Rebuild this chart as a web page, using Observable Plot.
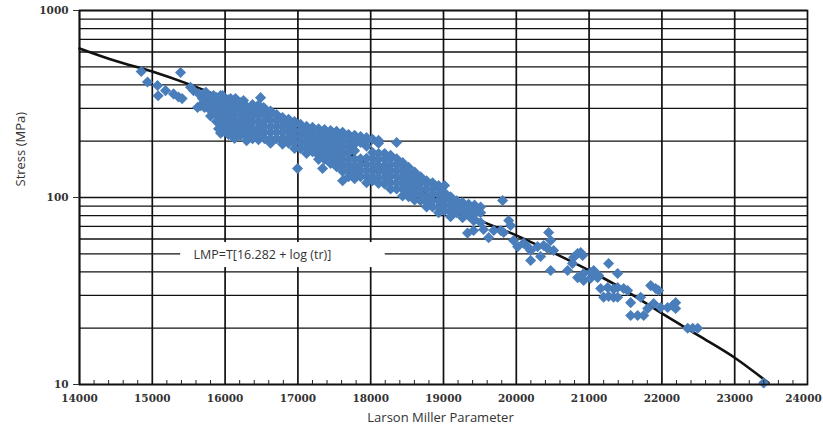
<!DOCTYPE html>
<html>
<head>
<meta charset="utf-8">
<script src="https://cdn.jsdelivr.net/npm/d3@7"></script>
<script src="https://cdn.jsdelivr.net/npm/@observablehq/plot@0.6"></script>
<style>
  html, body { margin: 0; padding: 0; background: #fff; }
  #chart { width: 823px; height: 436px; }
</style>
</head>
<body>
<div id="chart"></div>
<script>
// ---- axis ticks ----
const xMajorTicks = [14000, 15000, 16000, 17000, 18000, 19000, 20000, 21000, 22000, 23000];
const xLastTick = [24000];
const xMinorTicks = [14200,14400,14600,14800,15200,15400,15600,15800,16200,16400,16600,16800,17200,17400,17600,17800,
  18200,18400,18600,18800,19200,19400,19600,19800,20200,20400,20600,20800,21200,21400,21600,21800,
  22200,22400,22600,22800,23200,23400,23600,23800];
const yLabelTicks = [10, 100, 1000];
const yGridLines = [10,20,30,40,50,60,70,80,90,100,200,300,400,500,600,700,800,900,1000];

// ---- fitted master curve (LMP, stress MPa) ----
const fitLMP    = [14000, 14500, 15000, 15500, 16000, 16500, 17000, 17500, 18000, 18500, 19000, 19500, 20000, 20500, 21000, 21500, 22000, 22500, 23000, 23464];
const fitStress = [627,   537,   472,   404,   338,   281,   228,   187,   150,   121,   94,    75.4,  62.7,  50.8,  40.7,  31.8,  24.0,  18.3,  13.9,  10.2];

// ---- scattered test results (LMP, stress MPa) ----
const sparseLeft = [
  [14848,472],[14934,415],[15072,397],[15080,350],[15182,373],[15292,358],[15388,466],[15360,345],[15410,338],
  [15525,389],[15566,373],[15640,358],[15704,358],[15621,303],[15662,310],[15690,338],[15735,365],[15841,351],
  [15910,330],[15937,351],[16075,338],[16143,338],[16253,330],[16487,342],[16528,303],
  [15910,233],[15937,221],[16116,221],[16212,215],[16528,221],[16995,143],[17339,143],[17614,123]
];
const bandColumns = [
  [15717,[330,303]],
  [15800,[338,314,292,273]],
  [15882,[342,318,295,275,255]],
  [15965,[351,326,303,281,262,244,225]],
  [16047,[333,310,288,268,249,231,217]],
  [16130,[318,295,275,255,237,220,207]],
  [16212,[321,299,278,258,240,223]],
  [16295,[306,284,265,246,228,213,201]],
  [16377,[314,292,272,253,233,217,206]],
  [16459,[312,292,275,255,237,220,204]],
  [16542,[299,278,258,240,223,206]],
  [16624,[290,278,258,240,223,207,195]],
  [16707,[278,258,240,223,206]],
  [16789,[268,258,240,223,207,193]],
  [16872,[262,243,226,209,195]],
  [16954,[255,246,228,213,198,183]],
  [17037,[246,228,212,197,183]],
  [17119,[240,231,215,199,185,172]],
  [17201,[237,221,205,190,176]],
  [17284,[233,225,209,195,180,168,160]],
  [17366,[231,215,200,185,172,160]],
  [17449,[228,220,204,190,176,164,152]],
  [17531,[226,209,195,181,168,156,146]],
  [17614,[223,215,199,185,172,160,148,138]],
  [17696,[217,202,187,174,161,150,139,129]],
  [17779,[215,207,193,178,160,146,136,126]],
  [17861,[212,197,161,150,139,129]],
  [17943,[209,201,188,162,150,140,130,120]],
  [18026,[205,174,161,150,139,129,123]],
  [18108,[202,195,172,160,148,138,128,119]],
  [18191,[172,160,148,137,127,118]],
  [18273,[168,162,150,140,130,120,111]],
  [18356,[197,161,150,139,129,120,111]],
  [18438,[154,148,138,128,119,111,102]],
  [18520,[145,135,125,116,108,101]],
  [18603,[137,132,122,114,105,97]],
  [18685,[129,120,111,104,96]],
  [18768,[123,119,111,102,94,89]],
  [18850,[120,111,104,96,89]],
  [18933,[116,112,104,96,89,83]],
  [19015,[116,106,98,91,85]],
  [19097,[101,97,91,84,79]],
  [19180,[96,89,83]],
  [19262,[94,91,84,78]],
  [19345,[92,86,80]],
  [19427,[91,88,82,76]],
  [19510,[89,83]]
];
const sparseRight = [
  [19330,64.5],[19413,66.6],[19413,75.4],[19510,73.5],[19550,67.4],[19620,61],[19690,66.6],[19785,66.6],[19826,65],
  [19812,96.4],[19895,75.4],[19922,70.8],[19963,58.9],[20018,54.6],[20100,57],[20155,54.6],[20197,52.1],[20197,46],
  [20293,54.6],[20334,48.4],[20375,55.4],[20430,53.4],[20444,65],[20472,58.9],[20513,52.1],[20472,40.7],
  [20705,40.7],[20772,44.4],[20787,47.8],[20842,50.2],[20884,50.8],[20911,49],[20842,37.3],[20925,39.2],[20925,36],
  [21021,39.7],[21021,37],[21063,40.7],[21117,37.3],[21131,38.3],[21268,44.4],[21392,39.2],
  [21159,32.6],[21255,33],[21337,32.4],[21392,33],[21474,32.6],[21529,31.8],[21200,29.3],[21268,29.6],[21337,29.3],
  [21392,29.3],[21571,27.4],[21708,29.3],[21846,33.8],[21914,32.6],[21955,31.8],
  [21571,23.4],[21667,23.4],[21750,23.4],[21805,25.5],[21887,27.1],[21983,25.8],[22079,25.8],[22148,26.4],
  [22189,27.4],[22189,25.5],[22354,20],[22423,20],[22492,20],[23398,10.2]
];

// ---- annotation ----
const noteText = "LMP=T[16.282 + log (tr)]";
const noteAnchor = [{lmp: 15566, stress: 49.5}];
const noteBackground = [{lmp1: 15390, lmp2: 18200, s1: 42.2, s2: 57.4}];

// ---- build tables ----
const fitCurve = fitLMP.map((x, i) => ({lmp: x, stress: fitStress[i]}));
const points = [
  ...sparseLeft.map(([l, s]) => ({lmp: l, stress: s})),
  ...bandColumns.flatMap(([l, ss]) => ss.map(s => ({lmp: l, stress: s}))),
  ...sparseRight.map(([l, s]) => ({lmp: l, stress: s}))
];

const tickFont = {fontFamily: "DejaVu Serif", fontWeight: "bold", fontSize: 10.5};

const chart = Plot.plot({
  width: 823,
  height: 436,
  marginLeft: 79,
  marginRight: 16,
  marginTop: 10,
  marginBottom: 52,
  style: {background: "#fff", color: "#222"},
  x: {domain: [14000, 24000], axis: null},
  y: {type: "log", domain: [10, 1000], axis: null},
  marks: [
    Plot.ruleY(yGridLines, {y: d => d, stroke: "#111", strokeWidth: 1.3}),
    Plot.ruleX(xMajorTicks, {x: d => d, stroke: "#111", strokeWidth: 1.7}),
    Plot.rect(noteBackground, {x1: "lmp1", x2: "lmp2", y1: "s1", y2: "s2", fill: "#fff"}),
    Plot.text(noteAnchor, {x: "lmp", y: "stress", text: () => noteText, textAnchor: "start",
      fontFamily: "Open Sans", fontSize: 12.5, fill: "#333"}),
    Plot.line(fitCurve, {x: "lmp", y: "stress", stroke: "#111", strokeWidth: 2.6, curve: "monotone-x"}),
    Plot.dot(points, {x: "lmp", y: "stress", symbol: "diamond2", r: 5, fill: "#4a7ebb", stroke: "none"}),
    Plot.frame({stroke: "#111", strokeWidth: 1.7}),
    Plot.axisY({ticks: yLabelTicks, tickSize: 6, tickPadding: 5, tickFormat: d => String(d), label: null,
      color: "#333", ...tickFont}),
    Plot.axisX({ticks: xMajorTicks, tickSize: 0, tickPadding: 10, tickFormat: d => String(d), label: null,
      color: "#333", ...tickFont}),
    Plot.axisX({ticks: xLastTick, tickSize: 0, tickPadding: 10, tickFormat: d => String(d), label: null,
      dx: -4, color: "#333", ...tickFont}),
    Plot.axisX({ticks: xMinorTicks, tickSize: 4, dy: -4, tickFormat: () => "", label: null, color: "#222"}),
    Plot.text(["Larson Miller Parameter"], {text: d => d, frameAnchor: "bottom", dy: 37, dx: -3,
      fontFamily: "Open Sans", fontSize: 13, fill: "#333"}),
    Plot.text(["Stress (MPa)"], {text: d => d, frameAnchor: "left", rotate: -90, dx: -59, dy: -11,
      fontFamily: "Open Sans", fontSize: 13, fill: "#333"})
  ]
});
document.getElementById("chart").appendChild(chart);
</script>
</body>
</html>
